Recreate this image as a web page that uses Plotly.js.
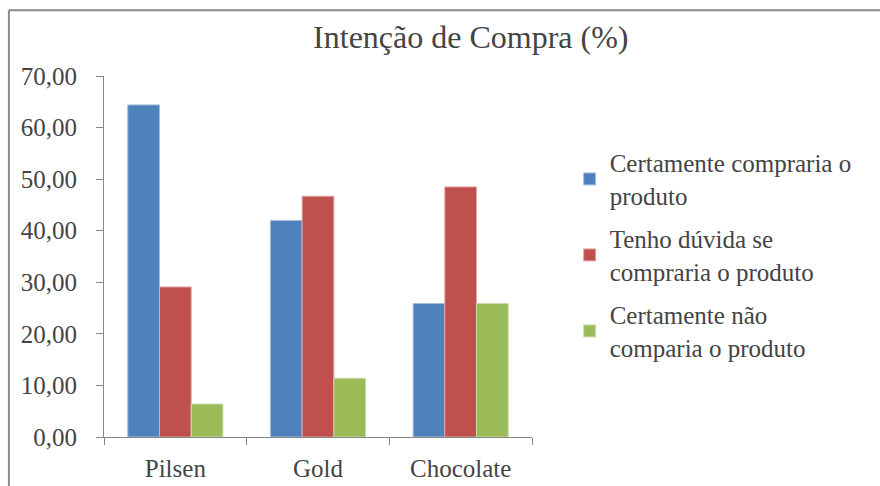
<!DOCTYPE html>
<html><head><meta charset="utf-8">
<script src="https://cdn.plot.ly/plotly-3.0.1.min.js"></script>
<style>html,body{margin:0;padding:0;background:#fff}#chart{width:880px;height:486px}</style>
</head><body><div id="chart"></div>
<script>
const categories = ["Pilsen", "Gold", "Chocolate"];
const seriesNames = ["Certamente compraria o<br>produto", "Tenho dúvida se<br>compraria o produto", "Certamente não<br>comparia o produto"];
const certamenteCompraria = [64.4, 42.0, 25.9];
const tenhoDuvida = [29.1, 46.7, 48.5];
const certamenteNao = [6.4, 11.4, 25.9];
const colors = ["#4F81BD", "#C0504D", "#9BBB59"];
const lineColors = ["#a7c0de", "#dfa8a6", "#cddcac"];
const values = [certamenteCompraria, tenhoDuvida, certamenteNao];

const FONT = "Liberation Serif";
const TXT = "#444444";
const data = values.map((v, i) => ({
  type: "bar", x: categories, y: v, name: seriesNames[i], legendgroup: "g" + i,
  marker: {color: colors[i], line: {color: lineColors[i], width: 1}},
  hoverinfo: "skip"
}));

const layout = {
  width: 880, height: 486,
  margin: {l: 104, r: 348, t: 76, b: 49},
  paper_bgcolor: "#fff", plot_bgcolor: "#fff",
  font: {family: FONT, color: TXT, size: 25},
  separators: ",.",
  title: {text: "Intenção de Compra (%)", font: {family: FONT, size: 32, color: TXT},
          xref: "container", x: 0.535, xanchor: "center", yref: "container", y: 0.925, yanchor: "middle"},
  bargap: 0.333, bargroupgap: 0,
  xaxis: {showline: true, linecolor: "#868686", linewidth: 1, ticks: "outside", tickson: "boundaries",
          ticklen: 7, tickcolor: "#868686", ticklabelstandoff: 9,
          tickfont: {family: FONT, size: 25, color: TXT}, showgrid: false, zeroline: false},
  yaxis: {range: [0, 70], dtick: 10, tickformat: ".2f", showline: true, linecolor: "#868686", linewidth: 1,
          ticks: "outside", ticklen: 7, tickcolor: "#868686", showgrid: false, zeroline: false,
          ticklabelstandoff: 14, tickfont: {family: FONT, size: 25, color: TXT}},
  legend: {x: 1.088, y: 0.823, xanchor: "left", yanchor: "top", font: {family: FONT, size: 25, color: TXT},
           tracegroupgap: 8, itemwidth: 30, bgcolor: "rgba(0,0,0,0)"},
  shapes: [
    {type: "line", xref: "paper", yref: "paper", x0: -0.2222, x1: -0.2222, y0: -1, y1: 1.182,
     line: {color: "#8a8a8a", width: 2}, layer: "below"},
    {type: "line", xref: "paper", yref: "paper", x0: -0.2222, x1: 3, y0: 1.182, y1: 1.182,
     line: {color: "#8a8a8a", width: 2}, layer: "below"}
  ],
  showlegend: true
};
Plotly.newPlot("chart", data, layout, {displayModeBar: false, staticPlot: true});
</script></body></html>
